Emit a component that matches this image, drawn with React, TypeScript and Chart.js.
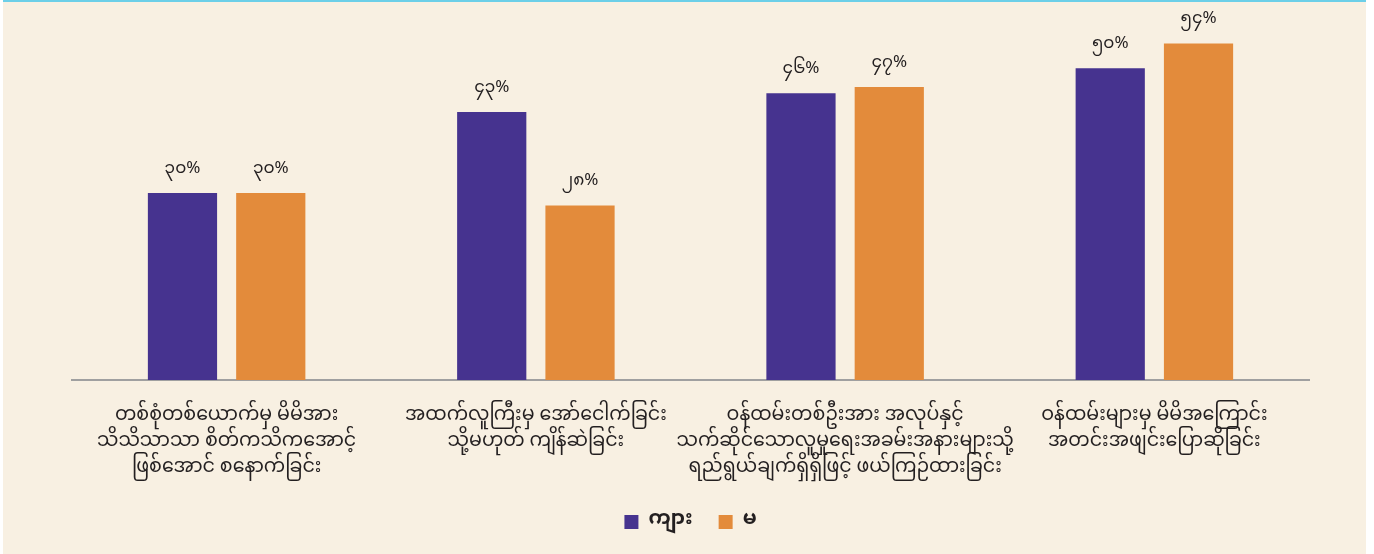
import React, { useEffect, useRef } from "react";
import { Chart, registerables } from "chart.js";

Chart.register(...registerables);

const categories: string[][] = [
  ["တစ်စုံတစ်ယောက်မှ မိမိအား", "သိသိသာသာ စိတ်ကသိကအောင့်", "ဖြစ်အောင် စနောက်ခြင်း"],
  ["အထက်လူကြီးမှ အော်ငေါက်ခြင်း", "သို့မဟုတ် ကျိန်ဆဲခြင်း"],
  ["ဝန်ထမ်းတစ်ဦးအား အလုပ်နှင့်", "သက်ဆိုင်သောလူမှုရေးအခမ်းအနားများသို့", "ရည်ရွယ်ချက်ရှိရှိဖြင့် ဖယ်ကြဉ်ထားခြင်း"],
  ["ဝန်ထမ်းများမှ မိမိအကြောင်း", "အတင်းအဖျင်းပြောဆိုခြင်း"],
];
const seriesNames: string[] = ["ကျား", "မ"];
const maleValues: number[] = [30, 43, 46, 50];
const femaleValues: number[] = [30, 28, 47, 54];

const MY_DIGITS = ["၀", "၁", "၂", "၃", "၄", "၅", "၆", "၇", "၈", "၉"];
const toMyanmar = (n: number) =>
  String(n)
    .split("")
    .map((c) => (c >= "0" && c <= "9" ? MY_DIGITS[+c] : c))
    .join("") + "%";

const FONT = "'Noto Sans Myanmar', 'Padauk', 'Myanmar Text', 'Noto Sans', sans-serif";

const valueLabels = {
  id: "valueLabels",
  afterDatasetsDraw(chart: any) {
    const ctx = chart.ctx;
    ctx.save();
    ctx.font = `17px ${FONT}`;
    ctx.fillStyle = "#231F20";
    ctx.textAlign = "center";
    ctx.textBaseline = "middle";
    chart.data.datasets.forEach((ds: any, i: number) => {
      const meta = chart.getDatasetMeta(i);
      meta.data.forEach((bar: any, j: number) => {
        ctx.fillText(toMyanmar(ds.data[j]), bar.x, bar.y - 22);
      });
    });
    ctx.restore();
  },
};

export default function App() {
  const ref = useRef<HTMLCanvasElement>(null);
  useEffect(() => {
    if (!ref.current) return;
    const chart = new Chart(ref.current, {
      type: "bar",
      data: {
        labels: categories,
        datasets: [
          { label: seriesNames[0], data: maleValues, backgroundColor: "#46338F" },
          { label: seriesNames[1], data: femaleValues, backgroundColor: "#E38B3B" },
        ],
      },
      options: {
        animation: false,
        responsive: false,
        maintainAspectRatio: false,
        layout: { padding: { left: 69, right: 57, top: 4, bottom: 12 } },
        datasets: { bar: { categoryPercentage: 0.571, barPercentage: 0.784 } },
        scales: {
          x: {
            grid: { display: false },
            border: { display: true, color: "#A0A0A0", width: 2 },
            ticks: {
              color: "#231F20",
              font: { family: FONT, size: 19, lineHeight: 1.37 },
              padding: 17,
              maxRotation: 0,
              autoSkip: false,
            },
            afterFit: (scale: any) => {
              scale.height = 106;
            },
          },
          y: { display: false, min: 0, max: 60 },
        },
        plugins: {
          legend: {
            position: "bottom",
            labels: {
              color: "#231F20",
              font: { family: FONT, size: 20, weight: "bold" },
              boxWidth: 14,
              boxHeight: 14,
              padding: 26,
            },
          },
          tooltip: { enabled: false },
        },
      },
      plugins: [valueLabels],
    } as any);
    return () => chart.destroy();
  }, []);
  return (
    <div style={{ position: "fixed", left: 0, top: 0, width: 1374, height: 554, background: "#FFFFFF" }}>
      <div
        style={{
          position: "absolute",
          left: 3,
          top: 0,
          width: 1363,
          height: 554,
          background: "#F8F0E2",
          borderTop: "2px solid #6CCFE8",
          boxSizing: "border-box",
        }}
      >
        <canvas ref={ref} width={1363} height={552} style={{ display: "block" }} />
      </div>
    </div>
  );
}
